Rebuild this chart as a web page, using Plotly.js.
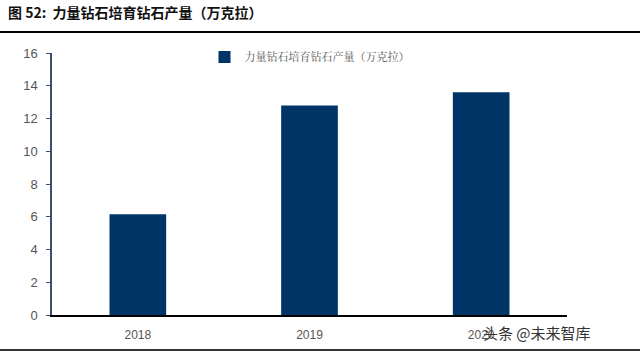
<!DOCTYPE html>
<html><head><meta charset="utf-8">
<script src="https://cdn.plot.ly/plotly-3.0.1.min.js"></script>
<style>html,body{margin:0;padding:0;background:#fff;}#c{width:640px;height:354px;}</style>
</head><body><div id="c"></div>
<script>
const categories = ['2018', '2019', '2020'];
const production = [6.15, 12.8, 13.6];
const seriesName = '力量钻石培育钻石产量（万克拉）';
const yTicks = [0, 2, 4, 6, 8, 10, 12, 14, 16];

const data = [{
  type: 'bar', x: categories, y: production, name: seriesName,
  marker: {color: '#003366'}, width: 0.33
}];
const layout = {
  width: 640, height: 354,
  margin: {l: 52, r: 73, t: 53, b: 39},
  paper_bgcolor: '#fff', plot_bgcolor: '#fff',
  showlegend: true,
  legend: {x: 0.5, xanchor: 'center', y: 1.04, yanchor: 'top', orientation: 'h',
    font: {family: 'Noto Serif CJK SC, Noto Sans CJK SC, serif', size: 11, color: '#555'}, bgcolor: 'rgba(0,0,0,0)'},
  xaxis: {type: 'category', showline: true, linecolor: '#000', linewidth: 1.5,
    ticks: '', ticklabelstandoff: 8, tickfont: {family: 'Liberation Sans, Arial, sans-serif', size: 12, color: '#555'},
    showgrid: false, zeroline: false},
  yaxis: {range: [0, 16], tickvals: yTicks, showline: true, linecolor: '#3a4f6e', linewidth: 1.5,
    ticks: 'outside', ticklen: 4, tickcolor: '#3a4f6e', ticklabelstandoff: 6,
    tickfont: {family: 'Liberation Sans, Arial, sans-serif', size: 13, color: '#555'},
    showgrid: false, zeroline: false},
  shapes: [
    {type: 'line', xref: 'paper', yref: 'y', x0: 1/3, x1: 1/3, y0: 0, y1: -0.25, line: {color: '#000', width: 1}},
    {type: 'line', xref: 'paper', yref: 'y', x0: 2/3, x1: 2/3, y0: 0, y1: -0.25, line: {color: '#000', width: 1}},
    {type: 'line', xref: 'paper', yref: 'y', x0: 1, x1: 1, y0: 0, y1: -0.25, line: {color: '#000', width: 1}},
    {type: 'line', xref: 'paper', yref: 'paper', x0: -0.101, x1: 1.142, y0: 1.08, y1: 1.08, line: {color: '#000', width: 2}},
    {type: 'line', xref: 'paper', yref: 'paper', x0: -0.101, x1: 1.142, y0: -0.134, y1: -0.134, line: {color: '#333', width: 2}}
  ],
  annotations: [
    {text: '<b>图 52:  力量钻石培育钻石产量（万克拉）</b>', xref: 'paper', yref: 'paper',
     x: -0.09, xanchor: 'left', y: 1.157, yanchor: 'middle', showarrow: false,
     font: {family: 'Noto Sans CJK SC', size: 14, color: '#111'}},
    {text: '头条 @未来智库', xref: 'paper', yref: 'paper', x: 1.05, xanchor: 'right',
     y: -0.068, yanchor: 'middle', showarrow: false,
     font: {family: 'Noto Sans CJK SC', size: 15, color: '#333'}}
  ]
};
Plotly.newPlot('c', data, layout, {displayModeBar: false});
</script></body></html>
